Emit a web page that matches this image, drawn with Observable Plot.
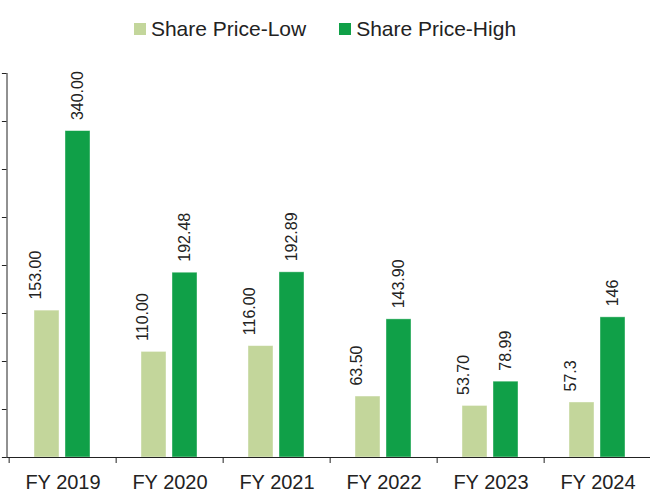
<!DOCTYPE html>
<html>
<head>
<meta charset="utf-8">
<script src="https://cdn.jsdelivr.net/npm/d3@7"></script>
<script src="https://cdn.jsdelivr.net/npm/@observablehq/plot@0.6"></script>
<style>
  html, body { margin: 0; padding: 0; background: #fff; }
  body { width: 650px; height: 492px; overflow: hidden; font-family: "Liberation Sans", Arial, sans-serif; color: #222; }
  #legend { height: 45px; box-sizing: border-box; padding-top: 13px; display: flex; justify-content: center; align-items: center; gap: 33px; font-size: 21px; line-height: 24px; }
  #legend .item { display: flex; align-items: center; height: 24px; }
  #legend .sw { width: 12px; height: 12px; margin-right: 5px; }
</style>
</head>
<body>
<div id="legend"></div>
<div id="chart"></div>
<script>
const years = ["FY 2019", "FY 2020", "FY 2021", "FY 2022", "FY 2023", "FY 2024"];
const lowValues = [153.00, 110.00, 116.00, 63.50, 53.70, 57.3];
const highValues = [340.00, 192.48, 192.89, 143.90, 78.99, 146];
const lowLabels = ["153.00", "110.00", "116.00", "63.50", "53.70", "57.3"];
const highLabels = ["340.00", "192.48", "192.89", "143.90", "78.99", "146"];
const seriesNames = ["Share Price-Low", "Share Price-High"];
const seriesColors = ["#c3d69b", "#10a048"];
const yTicks = [0, 50, 100, 150, 200, 250, 300, 350, 400];

const lowData = years.map((year, i) => ({year, value: lowValues[i], label: lowLabels[i]}));
const highData = years.map((year, i) => ({year, value: highValues[i], label: highLabels[i]}));

// Legend
const legend = document.getElementById("legend");
seriesNames.forEach((name, i) => {
  const item = document.createElement("div");
  item.className = "item";
  const sw = document.createElement("div");
  sw.className = "sw";
  sw.style.background = seriesColors[i];
  const t = document.createElement("span");
  t.textContent = name;
  item.appendChild(sw);
  item.appendChild(t);
  legend.appendChild(item);
});

const chart = Plot.plot({
  width: 650,
  height: 447,
  marginTop: 28,
  marginBottom: 35,
  marginLeft: 6.5,
  marginRight: 0,
  style: { fontFamily: "'Liberation Sans', Arial, sans-serif", fontSize: "20px", color: "#222", background: "#fff" },
  x: { domain: years, range: [6.5, 652.5], padding: 0, axis: null, label: null },
  y: { domain: [0, 400], ticks: yTicks, tickSize: 4.6, tickFormat: () => "", line: true, label: null },
  marks: [
    Plot.barY(lowData, { x: "year", y: "value", fill: seriesColors[0], insetLeft: 25, insetRight: 57, stroke: "#fff", strokeOpacity: 0.5, strokeWidth: 0.8 }),
    Plot.barY(highData, { x: "year", y: "value", fill: seriesColors[1], insetLeft: 56, insetRight: 26, stroke: "#fff", strokeOpacity: 0.5, strokeWidth: 0.8 }),
    Plot.text(lowData, { x: "year", y: "value", text: "label", rotate: -90, textAnchor: "start", dx: -27, dy: -11, fontSize: 16, fill: "#222" }),
    Plot.text(highData, { x: "year", y: "value", text: "label", rotate: -90, textAnchor: "start", dx: 14.6, dy: -11, fontSize: 16, fill: "#222" }),
    Plot.ruleY([0], { stroke: "#222" }),
    Plot.axisX({ tickSize: 6, tickFormat: () => "", dx: -53.85, stroke: "#222", label: null }),
    Plot.axisX({ tickSize: 0, tickPadding: 17, fontSize: 20, fill: "#222", label: null })
  ]
});
document.getElementById("chart").appendChild(chart);
</script>
</body>
</html>
